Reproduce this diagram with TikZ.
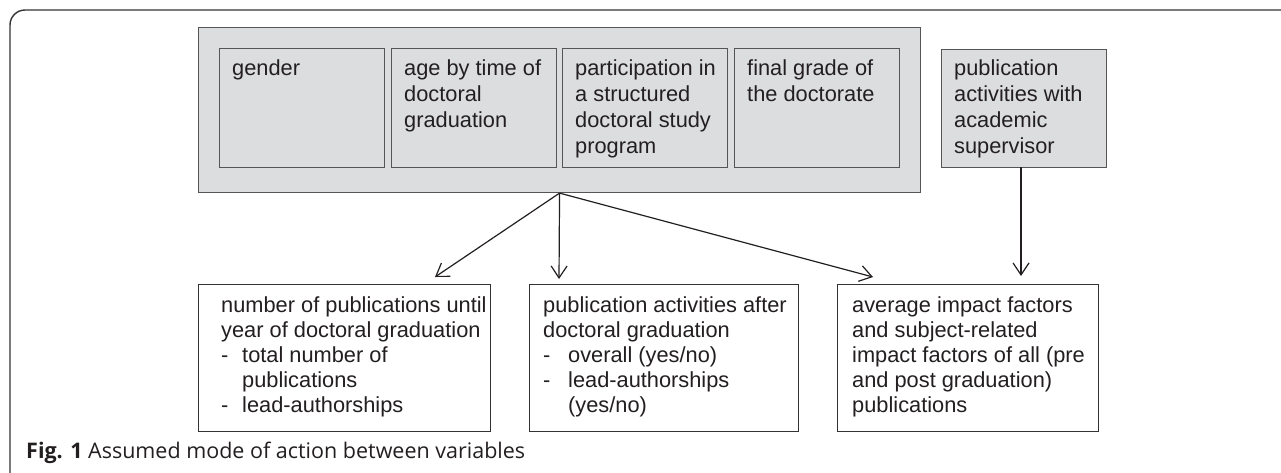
\documentclass[tikz,border=0pt]{standalone}
\usepackage{fontspec}
\setmainfont{Liberation Sans}
\newfontfamily\capfont{Open Sans}
\usetikzlibrary{arrows.meta,calc}
\definecolor{boxfill}{HTML}{DCDDDF}
\definecolor{boxline}{HTML}{555555}
\definecolor{txtcol}{HTML}{231F20}
\definecolor{frame}{HTML}{333333}
\newcommand{\fst}{\rule{0pt}{17pt}}
\begin{document}
\begin{tikzpicture}[x=1pt,y=-1pt,
  gbox/.style={draw=boxline, fill=boxfill, line width=1.1pt, inner sep=0pt, anchor=north west},
  wbox/.style={draw=frame, fill=white, line width=1.1pt, inner sep=0pt, anchor=north west},
  txt/.style={anchor=north west, inner sep=0pt, align=left, text=txtcol,
    font=\fontsize{21.8}{26}\selectfont},
  btxt/.style={txt, font=\fontsize{21.8}{25}\selectfont},
  arr/.style={draw=txtcol, line width=1.2pt, -{Straight Barb[length=12pt,width=16pt,line width=1.2pt]}}
]
\useasboundingbox (0,0) rectangle (1281,472);
% outer frame
\draw[frame, line width=1.4pt, rounded corners=15pt] (10,480) -- (10,10) -- (1290,10);
% big group box
\node[gbox, minimum width=722pt, minimum height=165pt] (big) at (198,27) {};
\node[gbox, minimum width=165pt, minimum height=119pt] (gender) at (219,48) {};
\node[gbox, minimum width=165pt, minimum height=119pt] (age) at (391,48) {};
\node[gbox, minimum width=165pt, minimum height=119pt] (part) at (562,48) {};
\node[gbox, minimum width=165pt, minimum height=119pt] (final) at (734,48) {};
\node[gbox, minimum width=165pt, minimum height=118pt] (sup) at (941,49) {};
\node[txt] (tgender) at ($(gender.north west)+(13,10)$) {\fst gender};
\node[txt] (tage) at ($(age.north west)+(13,10)$) {\fst age by time of\\doctoral\\graduation};
\node[txt] (tpart) at ($(part.north west)+(13,10)$) {\fst participation in\\a structured\\doctoral study\\program};
\node[txt] (tfinal) at ($(final.north west)+(13,10)$) {\fst final grade of\\the doctorate};
\node[txt] (tsup) at ($(sup.north west)+(13,9)$) {\fst publication\\activities with\\academic\\supervisor};
% bottom boxes
\node[wbox, minimum width=292pt, minimum height=147pt] (nump) at (198,284) {};
\node[wbox, minimum width=269pt, minimum height=147pt] (after) at (529,284) {};
\node[wbox, minimum width=261pt, minimum height=147pt] (impact) at (837,284) {};
\node[btxt] (tnump) at ($(nump.north west)+(23,11)$) {\fst number of publications until\\year of doctoral graduation\\\makebox[21pt][l]{-}total number of\\\hspace*{21pt}publications\\\makebox[21pt][l]{-}lead-authorships};
\node[btxt] (tafter) at ($(after.north west)+(14,11)$) {\fst publication activities after\\doctoral graduation\\\makebox[25pt][l]{-}overall (yes/no)\\\makebox[25pt][l]{-}lead-authorships\\\hspace*{25pt}(yes/no)};
\node[btxt] (timpact) at ($(impact.north west)+(15,11)$) {\fst average impact factors\\and subject-related\\impact factors of all (pre\\and post graduation)\\publications};
% arrows
\coordinate (e1) at (435,277);
\coordinate (e2) at (559,279);
\coordinate (e3) at (873,277);
\coordinate (s4) at (1021,167);
\coordinate (e4) at (1021,276);
\draw[arr] (big.south) -- (e1);
\draw[arr] (big.south) -- (e2);
\draw[arr] (big.south) -- (e3);
\draw[arr] (s4) -- (e4);
% caption
\node[anchor=base west, inner sep=0pt, text=txtcol, font=\capfont\fontsize{21.5}{24}\selectfont] (cap) at (26,458) {\textbf{Fig. 1} Assumed mode of action between variables};
\end{tikzpicture}
\end{document}
